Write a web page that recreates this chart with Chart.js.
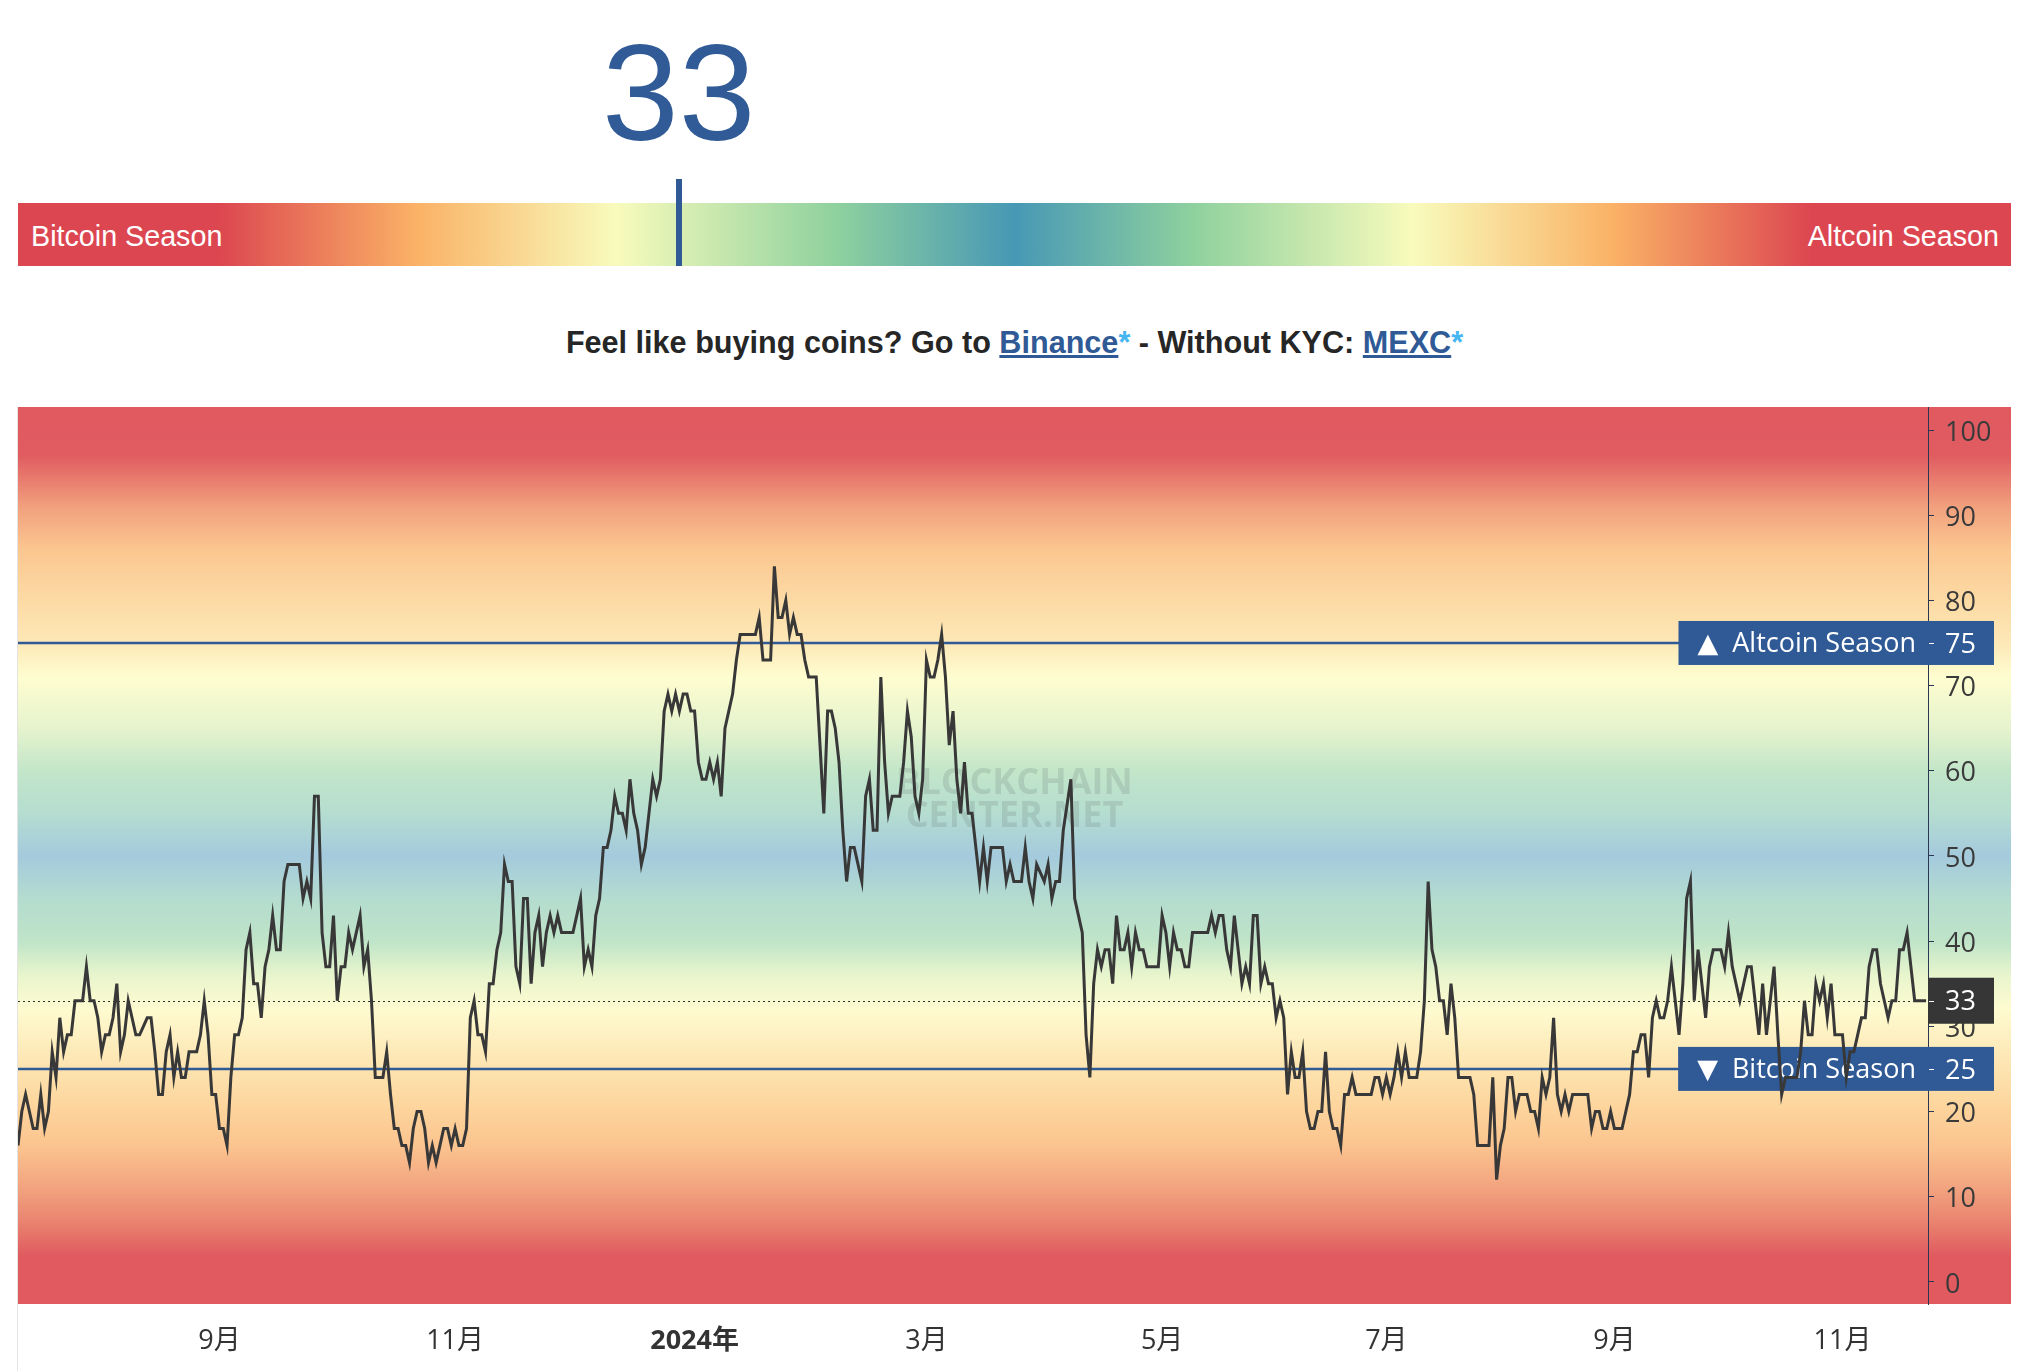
<!DOCTYPE html>
<html lang="zh">
<head>
<meta charset="utf-8">
<title>Altcoin Season Index</title>
<script src="https://cdn.jsdelivr.net/npm/chart.js@4.4.1/dist/chart.umd.min.js"></script>
<style>
  html, body { margin: 0; padding: 0; background: #fff; }
  body { position: relative; width: 2037px; height: 1371px; overflow: hidden; font-family: 'Liberation Sans', Arial, sans-serif; }
  #current { position: absolute; top: 23px; width: 300px; text-align: center; font-size: 138px; line-height: 138px; color: #315b97; }
  #bar { position: absolute; left: 18px; top: 203px; width: 1993px; height: 63px;
    background: linear-gradient(to right, #dc4650 0%, #dc4650 10%, #fab266 20%, #f8fbbc 30%, #8fd19e 41%, #4798b5 50%, #8fd19e 59%, #f8fbbc 70%, #fab266 80%, #dc4650 90%, #dc4650 100%); }
  #bar span { position: absolute; top: 19px; font-size: 28.7px; line-height: 28px; color: #fff; }
  #marker { position: absolute; top: 179px; width: 6px; height: 87px; background: #2f5a96; z-index: 2; }
  #promo { position: absolute; top: 327px; left: 0; width: 2029px; text-align: center; font-weight: bold; font-size: 30.6px; line-height: 30px; color: #262626; }
  #promo a { color: #2f5a96; text-decoration: underline; }
  #promo .star { color: #45b6f2; }
  #edge { position: absolute; left: 17px; top: 407px; width: 1px; height: 964px; background: #e4e4e4; }
  #wrap { position: absolute; left: 18px; top: 407px; width: 1993px; height: 958px; }
</style>
</head>
<body>
<div id="current"></div>
<div id="bar"><span style="left:13px">Bitcoin Season</span><span style="right:12px">Altcoin Season</span></div>
<div id="marker"></div>
<div id="promo">Feel like buying coins? Go to <a href="#">Binance</a><span class="star">*</span> - Without KYC: <a href="#">MEXC</a><span class="star">*</span></div>
<div id="edge"></div>
<div id="wrap"><canvas id="chart"></canvas></div>
<script>
// daily index values, oldest first
const values = [
  16, 20, 22, 20, 18, 18, 22, 18, 20, 27,
  24, 31, 27, 29, 29, 33, 33, 33, 37, 33,
  33, 31, 27, 29, 29, 31, 35, 27, 29, 33,
  31, 29, 29, 30, 31, 31, 27, 22, 22, 27,
  29, 24, 27, 24, 24, 27, 27, 27, 29, 33,
  29, 22, 22, 18, 18, 16, 24, 29, 29, 31,
  39, 41, 35, 35, 31, 37, 39, 43, 39, 39,
  47, 49, 49, 49, 49, 45, 47, 45, 57, 57,
  41, 37, 37, 43, 33, 37, 37, 41, 39, 41,
  43, 37, 39, 33, 24, 24, 24, 27, 22, 18,
  18, 16, 16, 14, 18, 20, 20, 18, 14, 16,
  14, 16, 18, 18, 16, 18, 16, 16, 18, 31,
  33, 29, 29, 27, 35, 35, 39, 41, 49, 47,
  47, 37, 35, 45, 45, 35, 41, 43, 37, 41,
  43, 41, 43, 41, 41, 41, 41, 43, 45, 37,
  39, 37, 43, 45, 51, 51, 53, 57, 55, 55,
  53, 59, 55, 53, 49, 51, 55, 59, 57, 59,
  67, 69, 67, 69, 67, 69, 69, 67, 67, 61,
  59, 59, 61, 59, 61, 57, 65, 67, 69, 73,
  76, 76, 76, 76, 76, 78, 73, 73, 73, 84,
  78, 78, 80, 76, 78, 76, 76, 73, 71, 71,
  71, 63, 55, 67, 67, 65, 61, 53, 47, 51,
  51, 49, 47, 57, 59, 53, 53, 71, 61, 55,
  57, 57, 57, 61, 67, 64, 57, 55, 59, 73,
  71, 71, 73, 76, 71, 63, 67, 59, 55, 61,
  55, 55, 51, 47, 51, 47, 51, 51, 51, 51,
  47, 49, 47, 47, 47, 51, 47, 45, 49, 48,
  47, 49, 45, 47, 47, 53, 56, 59, 45, 43,
  41, 29, 24, 35, 39, 37, 39, 39, 35, 43,
  39, 39, 41, 37, 41, 39, 39, 37, 37, 37,
  37, 43, 41, 37, 41, 39, 39, 37, 37, 41,
  41, 41, 41, 41, 43, 41, 43, 43, 39, 37,
  43, 39, 35, 37, 35, 43, 43, 35, 37, 35,
  35, 31, 33, 31, 22, 27, 24, 24, 27, 20,
  18, 18, 20, 20, 27, 20, 18, 18, 16, 22,
  22, 24, 22, 22, 22, 22, 22, 24, 24, 22,
  24, 22, 24, 27, 24, 27, 24, 24, 24, 27,
  33, 47, 39, 37, 33, 33, 29, 35, 31, 24,
  24, 24, 24, 22, 16, 16, 16, 16, 24, 12,
  16, 18, 24, 24, 20, 22, 22, 22, 20, 20,
  18, 24, 22, 24, 31, 22, 20, 22, 20, 22,
  22, 22, 22, 22, 18, 20, 20, 18, 18, 20,
  18, 18, 18, 20, 22, 27, 27, 29, 29, 24,
  31, 33, 31, 31, 33, 37, 33, 29, 35, 45,
  47, 33, 39, 35, 31, 37, 39, 39, 39, 37,
  41, 37, 35, 33, 35, 37, 37, 33, 29, 35,
  29, 33, 37, 29, 22, 24, 24, 24, 24, 27,
  33, 29, 29, 35, 33, 35, 31, 35, 29, 29,
  29, 24, 27, 27, 29, 31, 31, 37, 39, 39,
  35, 33, 31, 33, 33, 39, 39, 41, 37, 33,
  33, 33, 33
];
const monthTicks = [53, 115, 178, 239, 301, 360, 420, 480];
const monthLabels = ['9月', '11月', '2024年', '3月', '5月', '7月', '9月', '11月'];
const yTicks = [0, 10, 20, 30, 40, 50, 60, 70, 80, 90, 100];
const levelValues = [75, 25];
const levelTitles = ['▲  Altcoin Season', '▼  Bitcoin Season'];

const current = values[values.length - 1];

// header: big number + marker on the season bar
const markX = 18 + 1993 * current / 100;
const cur = document.getElementById('current');
cur.textContent = current;
cur.style.left = (markX + 3 - 150) + 'px';
document.getElementById('marker').style.left = markX + 'px';

const AXIS_FONT = "'Open Sans', 'Noto Sans CJK SC', sans-serif";
const BLUE = '#2f5a96';

// background colour by index level (top red, blue middle, bottom red)
const bands = [
  [102.7, '#e05a60'], [97, '#e05c61'], [91, '#f1a07d'], [86, '#fbc690'], [80, '#fcdaa4'],
  [75, '#fde8b7'], [71, '#fefdd0'], [65, '#e6f3cd'], [60, '#c3e6c9'], [55, '#b5ddd0'],
  [50, '#a4cadd'], [45, '#b4dccf'], [40, '#bfe4c8'], [36, '#e8f5cd'], [32, '#fefbd0'],
  [28, '#fdedbd'], [24, '#fde0ab'], [20, '#fdd39b'], [16, '#fbc48f'], [11, '#f2a37f'],
  [7, '#e9836f'], [3, '#e05a60'], [-2.6, '#e05a60']
];

const backdrop = {
  id: 'backdrop',
  beforeDraw(chart) {
    const { ctx, chartArea: a, scales: { y } } = chart;
    const h = a.bottom - a.top;
    const g = ctx.createLinearGradient(0, a.top, 0, a.bottom);
    bands.forEach(([v, c]) => {
      const p = (y.getPixelForValue(v) - a.top) / h;
      g.addColorStop(Math.min(1, Math.max(0, p)), c);
    });
    ctx.save();
    ctx.fillStyle = g;
    ctx.fillRect(0, a.top, chart.width, h);
    ctx.restore();
  }
};

const levels = {
  id: 'levels',
  beforeDatasetsDraw(chart) {
    const { ctx, chartArea: a, scales: { y } } = chart;
    const h = a.bottom - a.top;
    ctx.save();

    // watermark
    ctx.fillStyle = 'rgba(100, 115, 115, 0.2)';
    ctx.font = "bold 36px 'Open Sans'";
    ctx.textAlign = 'center';
    ctx.textBaseline = 'middle';
    ctx.fillText('BLOCKCHAIN', chart.width / 2, a.top + h * 0.42);
    ctx.fillText('CENTER.NET', chart.width / 2, a.top + h * 0.457);

    // dotted line at the latest value
    const yc = Math.round(y.getPixelForValue(current)) + 0.5;
    ctx.strokeStyle = '#333';
    ctx.lineWidth = 1;
    ctx.setLineDash([2, 3]);
    ctx.beginPath();
    ctx.moveTo(a.left, yc);
    ctx.lineTo(a.right, yc);
    ctx.stroke();
    ctx.setLineDash([]);

    // season lines with their titles
    levelValues.forEach((v, i) => {
      const yy = y.getPixelForValue(v);
      ctx.strokeStyle = BLUE;
      ctx.lineWidth = 2.5;
      ctx.beginPath();
      ctx.moveTo(a.left, yy);
      ctx.lineTo(a.right, yy);
      ctx.stroke();

      ctx.font = "27px 'Open Sans', 'DejaVu Sans'";
      const w = ctx.measureText(levelTitles[i]).width;
      const x1 = a.right - 12 - w - 19;
      ctx.fillStyle = BLUE;
      ctx.fillRect(x1, yy - 22, a.right - x1, 44);
      ctx.fillStyle = '#fff';
      ctx.textAlign = 'right';
      ctx.textBaseline = 'middle';
      ctx.fillText(levelTitles[i], a.right - 12, yy + 1);
    });
    ctx.restore();
  },
  afterDraw(chart) {
    const { ctx, chartArea: a, scales: { y } } = chart;
    ctx.save();
    const tags = levelValues.map(v => [v, BLUE, 44]).concat([[current, '#363636', 46]]);
    tags.forEach(([v, c, hh]) => {
      const yy = y.getPixelForValue(v);
      ctx.fillStyle = c;
      ctx.fillRect(a.right, yy - hh / 2, 66, hh);
      ctx.fillStyle = '#fff';
      ctx.fillRect(a.right + 1, Math.round(yy), 5, 1);
      ctx.font = "27px 'Open Sans'";
      ctx.textAlign = 'left';
      ctx.textBaseline = 'middle';
      ctx.fillText(String(v), a.right + 17, yy + 2);
    });
    ctx.restore();
  }
};

new Chart(document.getElementById('chart'), {
  type: 'line',
  data: {
    datasets: [{
      data: values.map((v, i) => ({ x: i, y: v })),
      borderColor: '#383838',
      borderWidth: 3,
      pointRadius: 0,
      tension: 0,
      fill: false
    }]
  },
  options: {
    responsive: true,
    maintainAspectRatio: false,
    animation: false,
    devicePixelRatio: 1,
    layout: { padding: 0, autoPadding: false },
    plugins: { legend: { display: false }, tooltip: { enabled: false } },
    scales: {
      x: {
        type: 'linear',
        min: 0,
        max: 502.5,
        grid: { display: false, drawTicks: false },
        border: { display: false },
        afterBuildTicks: s => { s.ticks = monthTicks.map(v => ({ value: v })); },
        afterFit: s => { s.height = 61; s.paddingLeft = 0; s.paddingRight = 0; },
        ticks: {
          autoSkip: false,
          maxRotation: 0,
          padding: 21,
          color: '#333',
          font: c => ({
            family: AXIS_FONT,
            size: 27,
            weight: String(c.tick && c.tick.label).includes('年') ? 'bold' : 'normal'
          }),
          callback: v => monthLabels[monthTicks.indexOf(v)]
        }
      },
      y: {
        position: 'right',
        min: -2.6,
        max: 102.7,
        afterBuildTicks: s => { s.ticks = yTicks.map(v => ({ value: v })); },
        afterFit: s => { s.width = 83; s.paddingTop = 0; s.paddingBottom = 0; },
        grid: { drawOnChartArea: false, drawTicks: true, tickLength: 6, color: '#2b3653', lineWidth: 1 },
        border: { display: true, color: '#2b3653', width: 1 },
        ticks: { padding: 11, labelOffset: 3, color: '#3a3a3a', font: { family: AXIS_FONT, size: 27 } }
      }
    }
  },
  plugins: [backdrop, levels]
});
</script>
</body>
</html>
